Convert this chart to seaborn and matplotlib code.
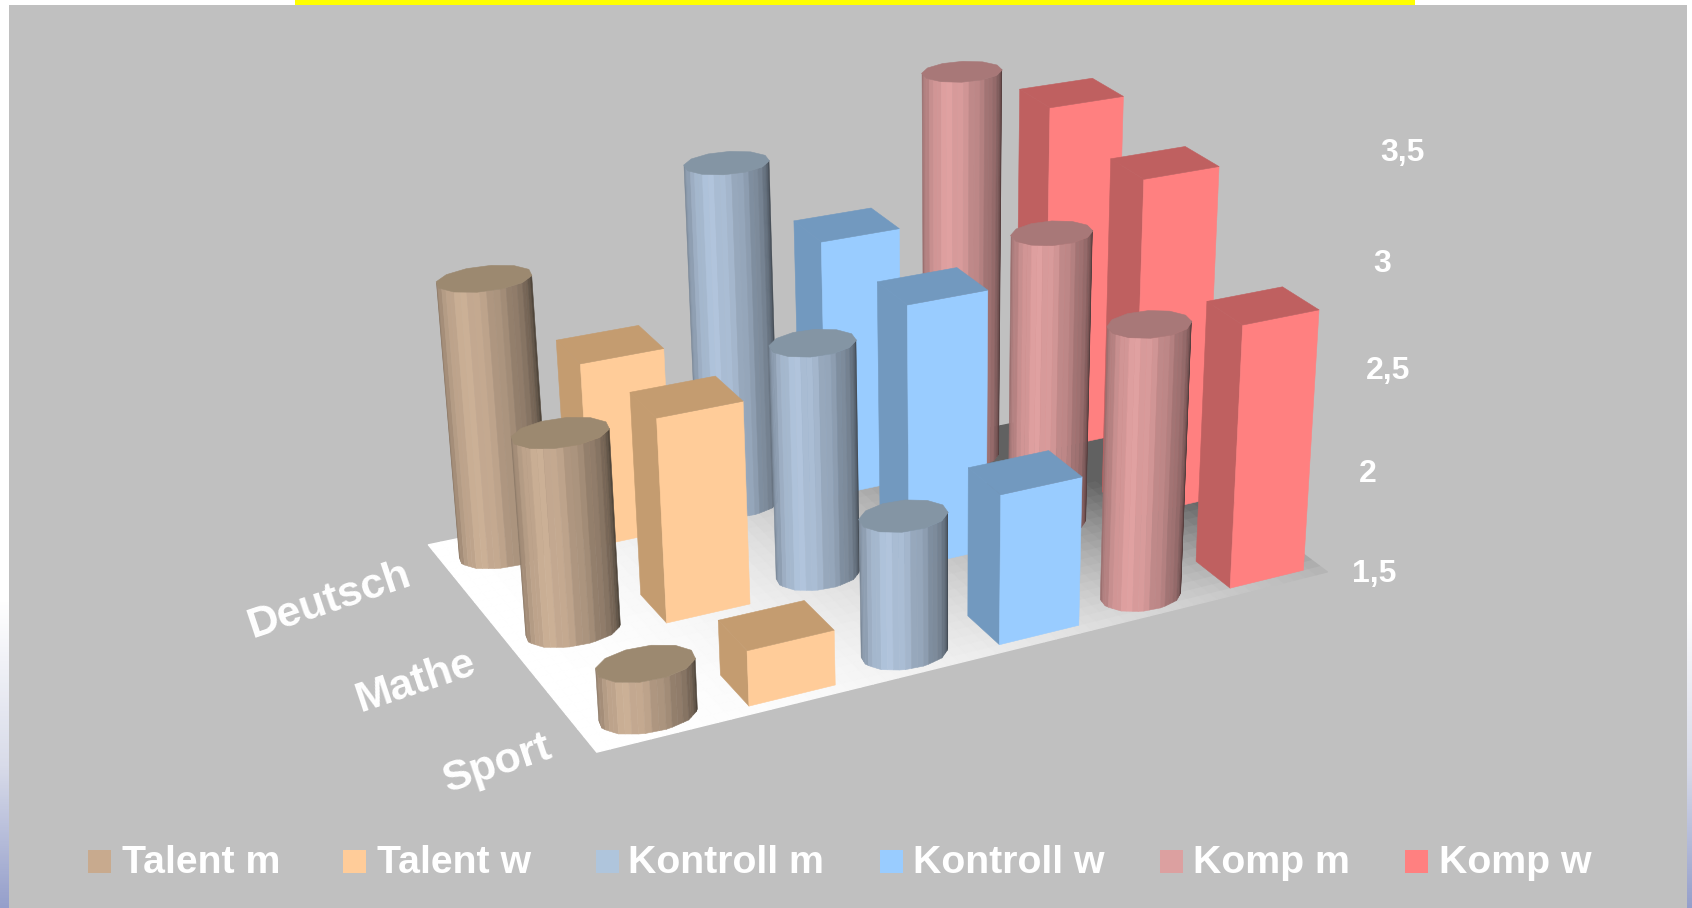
import numpy as np
import pandas as pd
import seaborn as sns
import matplotlib
matplotlib.use("Agg")
import matplotlib.pyplot as plt
from matplotlib.colors import LinearSegmentedColormap
from matplotlib.patches import Rectangle
from mpl_toolkits.mplot3d import proj3d
from mpl_toolkits.mplot3d.art3d import Poly3DCollection

# ---- chart values -------------------------------------------------------
categories = ["Deutsch", "Mathe", "Sport"]
series_names = ["Talent m", "Talent w", "Kontroll m", "Kontroll w", "Komp m", "Komp w"]
talent_m = [2.82, 2.43, 1.74]
talent_w = [2.40, 2.47, 1.76]
kontroll_m = [3.17, 2.62, 2.15]
kontroll_w = [2.775, 2.77, 2.215]
komp_m = [3.43, 2.93, 2.80]
komp_w = [3.24, 3.16, 2.77]
value_ticks = [1.5, 2.0, 2.5, 3.0, 3.5]

# ---- colours ------------------------------------------------------------
front_colors = sns.color_palette(
    ["#CDB197", "#FFCC99", "#B2C6DE", "#99CCFF", "#E2A2A2", "#FF8080"])
top_colors = sns.color_palette(
    ["#9C8970", "#C49C70", "#8495A4", "#7299BF", "#A87878", "#BF6060"])
legend_colors = ["#C8AA8E", "#FFCC99", "#AFC5DC", "#99CCFF", "#DCA0A0", "#FF8080"]

# Table that the drawing loop walks through
all_series = (talent_m, talent_w, kontroll_m, kontroll_w, komp_m, komp_w)
table = pd.DataFrame(
    {cat: [s[r] for s in all_series] for r, cat in enumerate(categories)},
    index=series_names)

sns.set_theme(style="white")
plt.rcParams["font.family"] = ["Liberation Sans", "DejaVu Sans"]

W, H = 1692, 908
fig = plt.figure(figsize=(W / 100, H / 100), dpi=100, facecolor="white")

# ---- slide backdrop -----------------------------------------------------
bg = fig.add_axes([0, 0, 1, 1], zorder=0)
edge_cmap = LinearSegmentedColormap.from_list(
    "edge", [(0, "#FFFFFF"), (0.54, "#D8DBE9"), (1, "#959FCB")])
ramp = np.linspace(0, 1, 300)[:, None]
for x0, x1 in ((0, 9), (1687, 1692)):
    bg.imshow(ramp, cmap=edge_cmap, extent=(x0, x1, H, 600), aspect="auto", zorder=1)
bg.set_xlim(0, W)
bg.set_ylim(H, 0)
bg.axis("off")
bg.add_patch(Rectangle((9, 5), 1678, H - 5, color="#C0C0C0", lw=0, zorder=2))
bg.add_patch(Rectangle((295, 0), 1120, 5, color="#FFFF00", lw=0, zorder=2))

# ---- perspective camera: x = series slot, y = depth, z = value ----------
scale = W / 1568
camera = np.array([
    [139.95 * scale, -35.19 * scale, -33.33 * scale, 553 * scale],
    [-16.155 * scale, -42.65 * scale, -226.1 * scale, 697 * scale],
    [0.0, 0.0, 1.0, 0.0],
    [0.02204, 0.04235, -0.03787, 1.0]])
base_shift = np.eye(4)
base_shift[2, 3] = -value_ticks[0]
camera = camera @ base_shift

ax = fig.add_axes([0, 0, 1, 1], projection="3d", computed_zorder=False, zorder=1)
ax.get_proj = lambda: camera
ax.apply_aspect = lambda position=None: None
ax.set_axis_off()
ax.patch.set_alpha(0)
ax.viewLim.intervalx = (0, W)
ax.viewLim.intervaly = (H, 0)

order = [0]


def add_faces(faces, colors, lw=0.4):
    """Add polygons in painter's order, one collection at a time."""
    order[0] += 1
    coll = Poly3DCollection(faces, facecolors=colors, edgecolors=colors,
                            linewidths=lw, zorder=order[0])
    ax.add_collection3d(coll, autolim=False)


# ---- floor with its light falloff toward the back right -----------------
floor_z = value_ticks[0]
gx = np.linspace(0, 6, 61)
gy = np.linspace(0, 3, 31)
floor_faces, floor_cols = [], []
for i in range(len(gx) - 1):
    for j in range(len(gy) - 1):
        t, s = (gx[i] + 0.05) / 6, (gy[j] + 0.05) / 3
        b = np.clip(1 - t ** 2 * (0.28 + 0.87 * s), 0.38, 1)
        floor_faces.append([(gx[i], gy[j], floor_z), (gx[i + 1], gy[j], floor_z),
                            (gx[i + 1], gy[j + 1], floor_z), (gx[i], gy[j + 1], floor_z)])
        floor_cols.append((b, b, b))
add_faces(floor_faces, floor_cols, lw=1.0)

# ---- bar geometry in slot units -----------------------------------------
X_PAD, X_SIZE = 0.18, 0.67
Y_PAD, Y_SIZE, ROW_PITCH = 0.10, 0.43, 1.2
ROW_SKEW = 0.04                # bars slide left a little with each row further back
CYL_Y = 0.275
CYL_RX = {0: 0.36, 2: 0.335, 4: 0.33}
CYL_SKEW = {0: 0.015, 2: 0.04, 4: 0.04}
RY = 0.21
coarse = np.linspace(0, 360, 13) + 8
shade_at = ([0.0, 0.12, 0.3, 0.42, 0.55, 0.75, 0.9, 1.0],
            [0.70, 0.80, 0.97, 1.0, 0.90, 0.70, 0.55, 0.36])


def draw_box(x_left, row, value, front, top):
    x0, x1 = x_left, x_left + X_SIZE
    y0, y1 = row + Y_PAD, row + Y_PAD + Y_SIZE
    z0 = floor_z
    add_faces([[(x0, y1, z0), (x0, y0, z0), (x0, y0, value), (x0, y1, value)]], [top])
    add_faces([[(x0, y0, z0), (x1, y0, z0), (x1, y0, value), (x0, y0, value)]], [front])
    add_faces([[(x0, y0, value), (x1, y0, value), (x1, y1, value), (x0, y1, value)]], [top])


def draw_cylinder(cx, cy, rx, value, light, top):
    rad = np.radians(coarse)
    px = cx + rx * np.cos(rad)
    py = cy + RY * np.sin(rad)
    z0 = floor_z
    edges = np.linspace(161, 341, 23)
    ex = np.interp(edges, coarse, px, period=360)
    ey = np.interp(edges, coarse, py, period=360)
    for k in range(len(edges) - 1):
        tau = (k + 0.5) / (len(edges) - 1)
        f = np.interp(tau, *shade_at) * (1.0 if k % 3 else 0.96)
        add_faces([[(ex[k], ey[k], z0), (ex[k + 1], ey[k + 1], z0),
                    (ex[k + 1], ey[k + 1], value), (ex[k], ey[k], value)]],
                  [tuple(c * f for c in light)])
    add_faces([[(a, b, value) for a, b in zip(px[:-1], py[:-1])]], [top])


# Rows run back to front, and right to left inside each row
for r, cat in enumerate(categories):
    back_steps = len(categories) - 1 - r
    row = ROW_PITCH * back_steps
    for i in reversed(range(len(series_names))):
        val = table.loc[series_names[i], cat]
        if i % 2:
            draw_box(i + X_PAD - ROW_SKEW * back_steps, row, val,
                     front_colors[i], top_colors[i])
        else:
            cx = i + X_PAD + X_SIZE / 2 - 0.01 - CYL_SKEW[i] * back_steps
            draw_cylinder(cx, row + CYL_Y, CYL_RX[i], val, front_colors[i], top_colors[i])


def to_page(x, y, z):
    """Page position of a point given in chart coordinates."""
    u, v, _ = proj3d.proj_transform(x, y, z, camera)
    return u, v


# ---- axis texts ---------------------------------------------------------
for tick in value_ticks:
    u, v = to_page(6.15, -0.1, tick)
    bg.text(u, v, f"{tick:g}".replace(".", ","), color="white", fontsize=23,
            fontweight="bold", ha="left", va="center", zorder=5)

label_x = [-0.95, -0.78, -0.65]
label_y = [2.53, 1.28, 0.13]
for cat, lx, ly in zip(categories, label_x, label_y):
    u, v = to_page(lx, ly, floor_z)
    bg.text(u, v, cat, color="white", fontsize=31, fontweight="bold", rotation=18.5,
            ha="center", va="center", zorder=5)

# ---- legend -------------------------------------------------------------
marker_left = [88, 343, 596, 880, 1160, 1405]
text_left = [122, 377, 628, 913, 1193, 1439]
for name, color, mx, tx in zip(series_names, legend_colors, marker_left, text_left):
    bg.add_patch(Rectangle((mx, 850), 23, 23, color=color, lw=0, zorder=5))
    bg.text(tx, 873, name, color="white", fontsize=28.3, fontweight="bold",
            ha="left", va="baseline", zorder=5)

fig.savefig("out.png", dpi=100, facecolor="white")
